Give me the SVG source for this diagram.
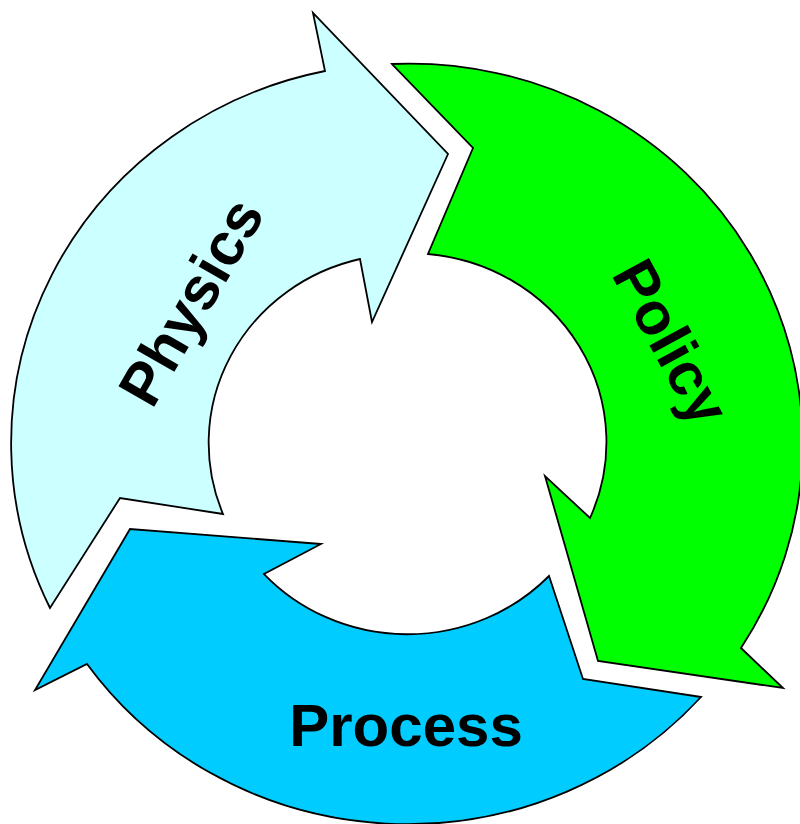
<svg xmlns="http://www.w3.org/2000/svg" width="800" height="824" viewBox="0 0 800 824">
<style>
.arrow{stroke:#000;stroke-width:1.8;stroke-linejoin:miter}
.lbl{font-family:"Liberation Sans",Arial,sans-serif;font-weight:bold;font-size:60px;fill:#000;text-anchor:middle}
</style>
<rect width="800" height="824" fill="#fff"/>
<g id="physics">
<path class="arrow" fill="#CCFFFF" d="M50,608 A393,380 0 0 1 325,71 L313,13 L448,154 L372,322 L360,259 A196,189 0 0 0 223,514 L120,498 Z"/>
<text class="lbl" transform="translate(209,312) rotate(-60)">Physics</text>
</g>
<g id="policy">
<path class="arrow" fill="#00FF00" d="M392,64 A393,380 0 0 1 741,648 L783,688 L598,661 L545,476 L590,518 A196,189 0 0 0 428,254 L473,148 Z"/>
<text class="lbl" transform="translate(653,352) rotate(61.5)">Policy</text>
</g>
<g id="process">
<path class="arrow" fill="#00CCFF" d="M701,697 A393,380 0 0 1 87,664 L35,690 L130,529 L321,544 L264,574 A196,189 0 0 0 549,576 L583,679 Z"/>
<text class="lbl" x="406" y="746">Process</text>
</g>
<g id="connectors"></g>
</svg>
